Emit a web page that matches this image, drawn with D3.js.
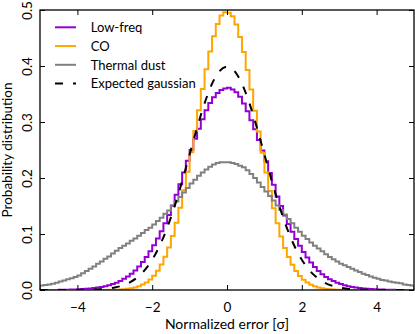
<!DOCTYPE html>
<html>
<head>
<meta charset="utf-8">
<script src="https://cdn.jsdelivr.net/npm/d3@7"></script>
<style>
  body { margin: 0; background: #fff; }
  svg { display: block; }
  text { font-family: Lato, "Liberation Sans", sans-serif; fill: #000; }
</style>
</head>
<body>
<div id="chart"></div>
<script>
'use strict';

// histogram bins: 100 bins of width 0.1 from -5 to 5
var binStart = -5;
var binWidth = 0.1;

var lowFreq = [
  0.0001, 0.0001, 0.0001, 0.0002, 0.0002, 0.0003, 0.0004, 0.0005, 0.0007, 0.0009,
  0.0012, 0.0016, 0.0021, 0.0027, 0.0034, 0.0043, 0.0054, 0.0068, 0.0085, 0.0105,
  0.013, 0.016, 0.020, 0.024, 0.029, 0.035, 0.042, 0.050, 0.059, 0.069,
  0.080, 0.092, 0.105, 0.119, 0.134, 0.151, 0.170, 0.189, 0.210, 0.231,
  0.250, 0.270, 0.288, 0.305, 0.321, 0.334, 0.344, 0.352, 0.357, 0.360,
  0.361, 0.358, 0.353, 0.345, 0.333, 0.319, 0.303, 0.287, 0.268, 0.249,
  0.230, 0.209, 0.188, 0.167, 0.150, 0.133, 0.118, 0.104, 0.091, 0.079,
  0.068, 0.058, 0.049, 0.041, 0.034, 0.028, 0.023, 0.019, 0.016, 0.013,
  0.0105, 0.0085, 0.0068, 0.0054, 0.0043, 0.0034, 0.0027, 0.0021, 0.0016, 0.0012,
  0.0009, 0.0007, 0.0005, 0.0004, 0.0003, 0.0002, 0.0002, 0.0001, 0.0001, 0.0001
];

var co = [
  0, 0, 0, 0, 0, 0, 0, 0, 0, 0,
  0, 0, 0, 0, 0.0001, 0.0001, 0.0001, 0.0002, 0.0003, 0.0004,
  0.0006, 0.0009, 0.0014, 0.0021, 0.0031, 0.0046, 0.0067, 0.0096, 0.0135, 0.0187,
  0.0255, 0.0345, 0.0456, 0.0594, 0.076, 0.0965, 0.120, 0.147, 0.178, 0.211,
  0.246, 0.284, 0.321, 0.359, 0.394, 0.426, 0.453, 0.475, 0.490, 0.496,
  0.495, 0.489, 0.474, 0.452, 0.425, 0.393, 0.358, 0.320, 0.283, 0.245,
  0.210, 0.177, 0.146, 0.119, 0.0955, 0.075, 0.0588, 0.0450, 0.0340, 0.0250,
  0.0183, 0.0132, 0.0094, 0.0066, 0.0045, 0.0030, 0.0020, 0.0013, 0.0009, 0.0006,
  0.0004, 0.0003, 0.0002, 0.0001, 0.0001, 0.0001, 0, 0, 0, 0,
  0, 0, 0, 0, 0, 0, 0, 0, 0, 0
];

var thermalDust = [
  0.008, 0.009, 0.010, 0.011, 0.013, 0.015, 0.017, 0.019, 0.021, 0.023,
  0.026, 0.030, 0.034, 0.038, 0.042, 0.047, 0.051, 0.056, 0.060, 0.065,
  0.070, 0.075, 0.079, 0.083, 0.088, 0.092, 0.097, 0.102, 0.107, 0.111,
  0.117, 0.123, 0.129, 0.136, 0.142, 0.150, 0.158, 0.166, 0.174, 0.182,
  0.190, 0.197, 0.204, 0.210, 0.215, 0.220, 0.224, 0.227, 0.228, 0.228,
  0.228, 0.227, 0.225, 0.222, 0.219, 0.214, 0.207, 0.200, 0.192, 0.184,
  0.176, 0.168, 0.160, 0.151, 0.143, 0.135, 0.127, 0.119, 0.111, 0.104,
  0.097, 0.091, 0.085, 0.079, 0.074, 0.069, 0.064, 0.059, 0.055, 0.051,
  0.047, 0.044, 0.041, 0.038, 0.035, 0.032, 0.029, 0.027, 0.024, 0.022,
  0.020, 0.018, 0.017, 0.015, 0.014, 0.013, 0.012, 0.010, 0.009, 0.008
];

// expected gaussian, sampled every 0.2 from -5 to 5
var gaussStep = 0.2;
var gaussian = [
  0.0000, 0.0000, 0.0000, 0.0000, 0.0001, 0.0001, 0.0003, 0.0006, 0.0012, 0.0024,
  0.0044, 0.0079, 0.0136, 0.0224, 0.0355, 0.0540, 0.0790, 0.1109, 0.1497, 0.1942,
  0.2420, 0.2897, 0.3332, 0.3683, 0.3910, 0.3989, 0.3910, 0.3683, 0.3332, 0.2897,
  0.2420, 0.1942, 0.1497, 0.1109, 0.0790, 0.0540, 0.0355, 0.0224, 0.0136, 0.0079,
  0.0044, 0.0024, 0.0012, 0.0006, 0.0003, 0.0001, 0.0001, 0.0000, 0.0000, 0.0000,
  0.0000
];

var seriesNames = ['Low-freq', 'CO', 'Thermal dust', 'Expected gaussian'];
var seriesColors = ['#9400d3', '#ffa500', '#808080', '#000000'];

var xTicks = [-4, -2, 0, 2, 4];
var yTicks = [0, 0.1, 0.2, 0.3, 0.4, 0.5];
var yTickLabels = ['0.0', '0.1', '0.2', '0.3', '0.4', '0.5'];
var xLabel = 'Normalized error [\u03c3]';
var yLabel = 'Probability distribution';

var scope = {};

scope.margins = { top: 10, right: 1, bottom: 44, left: 40 };
scope.width = 415 - scope.margins.left - scope.margins.right;
scope.height = 334 - scope.margins.top - scope.margins.bottom;

scope.xScale = d3.scaleLinear().domain([-5, 5]).range([0, scope.width]);
scope.yScale = d3.scaleLinear().domain([0, 0.5]).range([scope.height, 0]);

scope.stepLine = d3.line()
  .x(function(d) { return scope.xScale(d[0]); })
  .y(function(d) { return scope.yScale(d[1]); });

scope.curveLine = d3.line()
  .curve(d3.curveMonotoneX)
  .x(function(d) { return scope.xScale(d[0]); })
  .y(function(d) { return scope.yScale(d[1]); });

// outline of a step histogram, like histtype='step'
function histPoints(values) {
  var pts = [[binStart, 0]];
  values.forEach(function(v, i) {
    pts.push([binStart + i * binWidth, v]);
    pts.push([binStart + (i + 1) * binWidth, v]);
  });
  pts.push([binStart + values.length * binWidth, 0]);
  return pts;
}

var svg = d3.select('#chart')
  .append('svg')
  .attr('width', 415)
  .attr('height', 334);

var g = svg.append('g')
  .attr('transform', 'translate(' + scope.margins.left + ',' + scope.margins.top + ')');

g.append('clipPath')
  .attr('id', 'plotClip')
  .append('rect')
  .attr('width', scope.width)
  .attr('height', scope.height);

var plot = g.append('g').attr('clip-path', 'url(#plotClip)');

[lowFreq, co, thermalDust].forEach(function(values, i) {
  plot.append('path')
    .attr('d', scope.stepLine(histPoints(values)))
    .style('fill', 'none')
    .style('stroke', seriesColors[i])
    .style('stroke-width', 2);
});

plot.append('path')
  .attr('d', scope.curveLine(gaussian.map(function(v, i) {
    return [-5 + i * gaussStep, v];
  })))
  .style('fill', 'none')
  .style('stroke', '#000')
  .style('stroke-width', 2)
  .style('stroke-dasharray', '8,10');

// ticks on all four sides, pointing inwards
var bottomAxis = g.append('g')
  .attr('transform', 'translate(0,' + scope.height + ')')
  .call(d3.axisBottom(scope.xScale).tickValues(xTicks).tickSize(-5));
bottomAxis.selectAll('text')
  .attr('y', 21.7)
  .attr('dy', null)
  .style('font-size', '13.5px');

g.append('g')
  .call(d3.axisTop(scope.xScale).tickValues(xTicks).tickSize(-5).tickFormat(''));

var leftAxis = g.append('g')
  .call(d3.axisLeft(scope.yScale).tickValues(yTicks).tickSize(-5)
    .tickFormat(function(d, i) { return yTickLabels[i]; }));
leftAxis.selectAll('text')
  .attr('x', null)
  .attr('dy', null)
  .attr('text-anchor', 'middle')
  .attr('transform', 'translate(-8.3,0) rotate(-90)')
  .style('font-size', '13.5px');

g.append('g')
  .attr('transform', 'translate(' + scope.width + ',0)')
  .call(d3.axisRight(scope.yScale).tickValues(yTicks).tickSize(-5).tickFormat(''));

g.selectAll('.domain').remove();
g.selectAll('.tick line').style('stroke', '#000').style('stroke-width', 1);
g.selectAll('.tick text').style('font-family', 'Lato, "Liberation Sans", sans-serif');

g.append('rect')
  .attr('width', scope.width)
  .attr('height', scope.height)
  .style('fill', 'none')
  .style('stroke', '#000')
  .style('stroke-width', 1.3);

// axis labels
g.append('text')
  .attr('x', scope.width / 2)
  .attr('y', 319)
  .attr('text-anchor', 'middle')
  .style('font-size', '14px')
  .text(xLabel);

svg.append('text')
  .attr('transform', 'translate(11.5,' + (scope.margins.top + scope.height / 2) + ') rotate(-90)')
  .attr('text-anchor', 'middle')
  .style('font-size', '13.5px')
  .text(yLabel);

// legend, no frame
var legend = g.append('g').attr('transform', 'translate(15,22)');
seriesNames.forEach(function(name, i) {
  var row = legend.append('g').attr('transform', 'translate(0,' + (i * 18.75) + ')');
  row.append('line')
    .attr('x1', 0)
    .attr('x2', 21)
    .attr('y1', -4.7)
    .attr('y2', -4.7)
    .style('stroke', seriesColors[i])
    .style('stroke-width', 2)
    .style('stroke-dasharray', i === 3 ? '8,10' : null);
  row.append('text')
    .attr('x', 35.7)
    .style('font-size', '13px')
    .text(name);
});
</script>
</body>
</html>
